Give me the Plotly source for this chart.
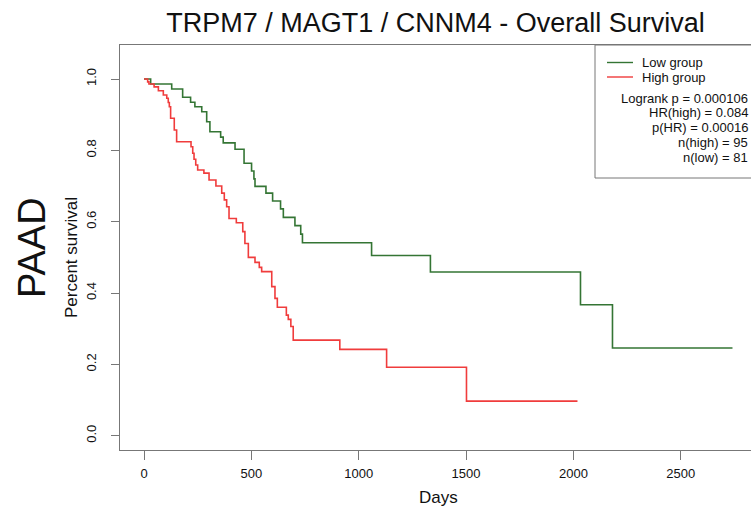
import plotly.graph_objects as go

# Kaplan-Meier curves (days, survival after each step)
low_days = [0, 31, 129, 180, 217, 237, 269, 292, 307, 357, 369, 424, 466, 501, 512, 517,
            568, 599, 636, 649, 703, 730, 738, 1060, 1334, 2033, 2182, 2741]
low_surv = [1.0, 0.986, 0.972, 0.949, 0.935, 0.922, 0.908, 0.880, 0.852, 0.837, 0.821, 0.803,
            0.764, 0.742, 0.720, 0.699, 0.680, 0.658, 0.636, 0.612, 0.589, 0.565, 0.541,
            0.505, 0.459, 0.367, 0.246, 0.246]

high_days = [0, 17, 23, 47, 67, 90, 106, 113, 118, 124, 141, 152, 219, 227, 233, 241, 250,
             279, 303, 335, 362, 374, 385, 396, 430, 460, 470, 486, 517, 537, 548, 595, 610,
             621, 663, 672, 684, 695, 912, 1130, 1502, 2019]
high_surv = [1.0, 0.992, 0.986, 0.978, 0.967, 0.955, 0.946, 0.934, 0.922, 0.890, 0.857, 0.824,
             0.810, 0.792, 0.775, 0.759, 0.745, 0.736, 0.717, 0.700, 0.680, 0.661, 0.642,
             0.609, 0.597, 0.572, 0.539, 0.500, 0.486, 0.472, 0.460, 0.418, 0.385, 0.360,
             0.338, 0.326, 0.306, 0.268, 0.242, 0.192, 0.097, 0.097]

x_ticks = [0, 500, 1000, 1500, 2000, 2500]
y_ticks = [0.0, 0.2, 0.4, 0.6, 0.8, 1.0]

group_names = ["Low group", "High group"]
group_colors = ["#347534", "#f03c3c"]
stats_lines = ["Logrank p = 0.000106", "HR(high) = 0.084", "p(HR) = 0.00016",
               "n(high) = 95", "n(low) = 81"]

title_text = "TRPM7 / MAGT1 / CNNM4 - Overall Survival"
side_label = "PAAD"

FONT = "Liberation Sans, Arial, sans-serif"
W, H = 751, 507
L, R, T, B = 120, 0, 45, 57
PW, PH = W - L - R, H - T - B


def px(xp):
    return (xp - L) / PW


def py(yp):
    return (H - B - yp) / PH


fig = go.Figure()
fig.add_trace(go.Scatter(x=low_days, y=low_surv, mode="lines", line_shape="hv",
                         name=group_names[0], line=dict(color=group_colors[0], width=1.6)))
fig.add_trace(go.Scatter(x=high_days, y=high_surv, mode="lines", line_shape="hv",
                         name=group_names[1], line=dict(color=group_colors[1], width=1.6)))

shapes = []
# legend box
shapes.append(dict(type="rect", xref="paper", yref="paper", x0=px(595), x1=px(W + 10),
                   y0=py(178), y1=py(T), line=dict(color="#777777", width=1),
                   fillcolor="rgba(0,0,0,0)"))
annotations = []
for i, (nm, col) in enumerate(zip(group_names, group_colors)):
    yy = 62.5 + 14.5 * i
    shapes.append(dict(type="line", xref="paper", yref="paper", x0=px(607), x1=px(633),
                       y0=py(yy), y1=py(yy), line=dict(color=col, width=1.4)))
    annotations.append(dict(text=nm, xref="paper", yref="paper", x=px(640), y=py(yy),
                            xanchor="left", yanchor="middle", showarrow=False,
                            font=dict(family=FONT, size=13, color="#111111")))
for i, s in enumerate(stats_lines):
    yy = 98 + 14.9 * i
    annotations.append(dict(text=s, xref="paper", yref="paper", x=px(750), y=py(yy),
                            xanchor="right", yanchor="middle", showarrow=False,
                            font=dict(family=FONT, size=13, color="#111111")))

annotations.append(dict(text=side_label, xref="paper", yref="paper", x=px(32), y=py(248),
                        textangle=-90, xanchor="center", yanchor="middle", showarrow=False,
                        font=dict(family=FONT, size=38, color="#111111")))
annotations.append(dict(text="Percent survival", xref="paper", yref="paper", x=px(71),
                        y=py(258), textangle=-90, xanchor="center", yanchor="middle",
                        showarrow=False, font=dict(family=FONT, size=17, color="#111111")))
annotations.append(dict(text="Days", xref="paper", yref="paper", x=px(438), y=py(497),
                        xanchor="center", yanchor="middle", showarrow=False,
                        font=dict(family=FONT, size=17, color="#111111")))

fig.update_layout(
    width=W, height=H,
    margin=dict(l=L, r=R, t=T, b=B, pad=0),
    paper_bgcolor="white", plot_bgcolor="white",
    showlegend=False,
    title=dict(text=title_text, x=px(435.5), xref="paper", xanchor="center",
               y=1 - 23 / H, yref="container", yanchor="middle",
               font=dict(family=FONT, size=27, color="#111111")),
    shapes=shapes, annotations=annotations,
    xaxis=dict(range=[(L - 144) / 0.2147, (W - 144) / 0.2147], tickvals=x_ticks,
               ticks="outside", ticklen=9, tickcolor="#777777", showline=True,
               linecolor="#777777", linewidth=1, mirror=True, showgrid=False, zeroline=False,
               ticklabelstandoff=2,
               tickfont=dict(family=FONT, size=13, color="#111111")),
    yaxis=dict(range=[(435.7 - (H - B)) / 356.7, (435.7 - T) / 356.7], tickvals=y_ticks,
               tickformat=".1f", tickangle=-90, ticks="outside", ticklen=8,
               tickcolor="#777777", showline=True, linecolor="#777777", linewidth=1,
               mirror=False, showgrid=False, zeroline=False, ticklabelstandoff=10,
               tickfont=dict(family=FONT, size=13, color="#111111")),
)

fig.write_html("out.html", config={"displayModeBar": False},
               post_script="document.body.style.margin='0';document.body.style.overflow='hidden';")
